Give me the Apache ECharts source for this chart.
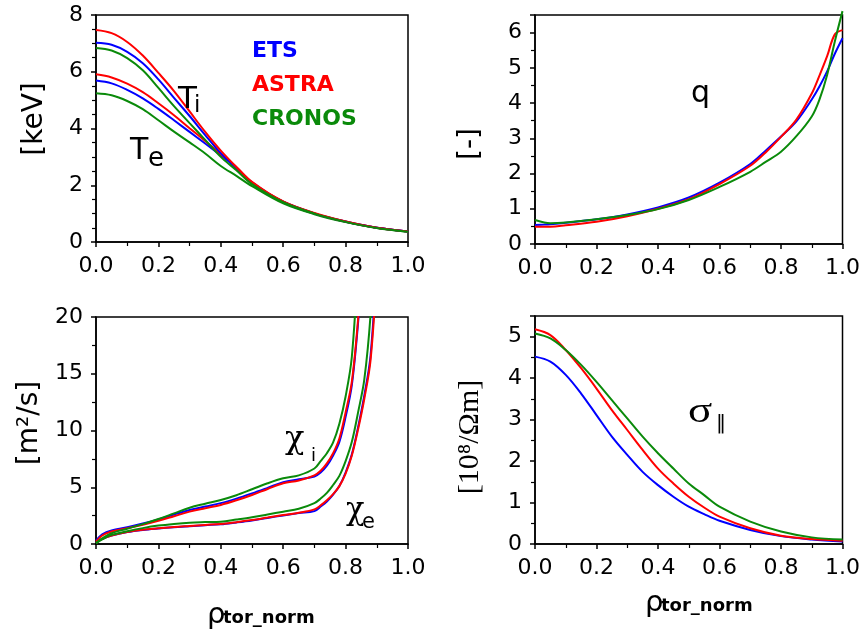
<!DOCTYPE html>
<html>
<head>
<meta charset="utf-8">
<script src="https://cdn.jsdelivr.net/npm/echarts@6/dist/echarts.min.js"></script>
<style>
  html, body { margin: 0; padding: 0; background: #fff; }
  #chart { width: 863px; height: 634px; }
</style>
</head>
<body>
<div id="chart"></div>
<script>
// codes
const codeNames = ['ETS', 'ASTRA', 'CRONOS'];
const codeColors = ['#0000ff', '#ff0000', '#0a8a0a'];

// temperatures [keV]
const rhoT = [0, 0.05, 0.1, 0.15, 0.2, 0.25, 0.3, 0.35, 0.4, 0.45, 0.5, 0.6, 0.7, 0.8, 0.9, 1.0];
const tiEts    = [7.02, 6.95, 6.70, 6.30, 5.73, 5.08, 4.44, 3.77, 3.13, 2.59, 2.06, 1.42, 1.01, 0.72, 0.50, 0.37];
const tiAstra  = [7.47, 7.36, 7.05, 6.57, 5.96, 5.32, 4.60, 3.88, 3.22, 2.64, 2.09, 1.43, 1.02, 0.72, 0.50, 0.37];
const tiCronos = [6.84, 6.75, 6.48, 6.05, 5.43, 4.79, 4.19, 3.60, 3.00, 2.53, 2.04, 1.40, 1.00, 0.71, 0.49, 0.36];
const teEts    = [5.69, 5.59, 5.36, 5.06, 4.69, 4.29, 3.88, 3.47, 3.05, 2.62, 2.10, 1.41, 1.00, 0.71, 0.50, 0.37];
const teAstra  = [5.91, 5.80, 5.58, 5.28, 4.89, 4.47, 4.01, 3.56, 3.10, 2.64, 2.12, 1.42, 1.01, 0.72, 0.50, 0.37];
const teCronos = [5.24, 5.17, 4.97, 4.68, 4.29, 3.89, 3.51, 3.12, 2.68, 2.33, 1.97, 1.36, 0.98, 0.70, 0.49, 0.36];

// safety factor q
const rhoQ = [0, 0.03, 0.05, 0.1, 0.2, 0.3, 0.4, 0.5, 0.6, 0.7, 0.75, 0.8, 0.85, 0.9, 0.925, 0.95, 0.975, 1.0];
const qEts    = [0.54, 0.55, 0.56, 0.60, 0.70, 0.84, 1.04, 1.32, 1.74, 2.27, 2.65, 3.05, 3.48, 4.10, 4.47, 4.90, 5.40, 5.84];
const qAstra  = [0.49, 0.49, 0.49, 0.53, 0.63, 0.79, 1.00, 1.27, 1.70, 2.22, 2.60, 3.04, 3.53, 4.27, 4.78, 5.33, 5.95, 6.07];
const qCronos = [0.68, 0.61, 0.59, 0.61, 0.70, 0.82, 0.99, 1.25, 1.62, 2.05, 2.33, 2.62, 3.06, 3.62, 4.10, 4.80, 5.75, 6.61];

// heat diffusivities [m2/s] (curves leave the box at the top)
const rhoChi = [0, 0.02, 0.05, 0.1, 0.15, 0.2, 0.25, 0.3, 0.35, 0.4, 0.45, 0.5, 0.55, 0.6, 0.65, 0.7, 0.72, 0.74, 0.76, 0.78, 0.8, 0.82, 0.84, 0.86, 0.88, 0.9];
const chiIEts    = [0.3, 0.85, 1.2, 1.47, 1.8, 2.17, 2.6, 3.0, 3.3, 3.6, 4.0, 4.46, 4.95, 5.45, 5.7, 5.95, 6.3, 6.9, 7.8, 9.0, 11.2, 14.0, 19.5, 27];
const chiIAstra  = [0.2, 0.75, 1.1, 1.4, 1.7, 2.05, 2.45, 2.85, 3.15, 3.44, 3.85, 4.32, 4.85, 5.35, 5.6, 6.05, 6.45, 7.1, 8.0, 9.3, 11.6, 14.3, 19.8, 27];
const chiICronos = [0.1, 0.5, 0.95, 1.35, 1.75, 2.2, 2.7, 3.2, 3.55, 3.88, 4.3, 4.82, 5.35, 5.79, 6.05, 6.65, 7.3, 8.0, 8.95, 10.6, 13.0, 16.5, 25];
const chiEEts    = [0.1, 0.45, 0.75, 1.05, 1.24, 1.37, 1.48, 1.57, 1.66, 1.74, 1.9, 2.08, 2.3, 2.52, 2.72, 2.9, 3.3, 3.75, 4.35, 5.1, 6.3, 7.9, 10.3, 13.1, 16.6, 25];
const chiEAstra  = [0.1, 0.45, 0.75, 1.05, 1.25, 1.38, 1.5, 1.59, 1.68, 1.76, 1.92, 2.11, 2.33, 2.55, 2.75, 3.05, 3.4, 3.85, 4.4, 5.1, 6.2, 7.8, 10.1, 12.8, 16.2, 24];
const chiECronos = [0.05, 0.4, 0.8, 1.12, 1.4, 1.62, 1.77, 1.88, 1.93, 1.97, 2.15, 2.35, 2.6, 2.85, 3.1, 3.6, 4.0, 4.5, 5.2, 6.0, 7.3, 9.0, 11.6, 14.5, 20.2, 30];

// parallel conductivity [10^8/Ohm m]
const rhoS = [0, 0.05, 0.1, 0.15, 0.2, 0.25, 0.3, 0.35, 0.4, 0.45, 0.5, 0.55, 0.6, 0.7, 0.8, 0.9, 1.0];
const sigEts    = [4.52, 4.40, 4.08, 3.63, 3.11, 2.59, 2.15, 1.74, 1.42, 1.14, 0.90, 0.72, 0.56, 0.34, 0.19, 0.11, 0.06];
const sigAstra  = [5.18, 5.04, 4.68, 4.24, 3.75, 3.23, 2.75, 2.27, 1.82, 1.46, 1.14, 0.88, 0.66, 0.38, 0.20, 0.12, 0.08];
const sigCronos = [5.08, 4.96, 4.68, 4.32, 3.91, 3.47, 3.03, 2.59, 2.19, 1.82, 1.46, 1.18, 0.90, 0.54, 0.30, 0.16, 0.11];

const xTicks = [0, 0.2, 0.4, 0.6, 0.8, 1.0];

let chart = echarts.init(document.getElementById('chart'), null, { renderer: 'canvas' });

let grids = [
  { left: 96, top: 15, width: 312, height: 227 },
  { left: 535, top: 15, width: 312, height: 229 },
  { left: 96, top: 317, width: 312, height: 227 },
  { left: 535, top: 316, width: 311, height: 228 }
].map(g => Object.assign(g, { show: true, borderColor: '#000', borderWidth: 1.5, backgroundColor: 'transparent' }));

const sans = "'DejaVu Sans', sans-serif";
const serif = "'Liberation Serif', 'Times New Roman', serif";
const labelFont = { color: '#000', fontSize: 22, fontFamily: 'DejaVu Sans' };

function xAxis(gi) {
  return {
    type: 'value', gridIndex: gi, min: 0, max: 1, interval: 0.2,
    axisLine: { show: true, lineStyle: { color: '#000', width: 1.5 } },
    axisTick: { show: true, length: 5, lineStyle: { color: '#000', width: 1.5 } },
    minorTick: { show: true, splitNumber: 2, length: 4, lineStyle: { color: '#000', width: 1.2 } },
    splitLine: { show: false },
    axisLabel: Object.assign({ margin: 13, formatter: v => xTicks.indexOf(+v.toFixed(1)) >= 0 ? v.toFixed(1) : '' }, labelFont)
  };
}

function yAxis(gi, max, interval, minor) {
  return {
    type: 'value', gridIndex: gi, min: 0, max: max, interval: interval,
    axisLine: { show: true, lineStyle: { color: '#000', width: 1.5 } },
    axisTick: { show: true, length: 5, lineStyle: { color: '#000', width: 1.5 } },
    minorTick: { show: true, splitNumber: minor, length: 4, lineStyle: { color: '#000', width: 1.2 } },
    splitLine: { show: false },
    axisLabel: Object.assign({ margin: 13, formatter: v => (v % interval === 0 ? String(v) : '') }, labelFont)
  };
}

function line(gi, rho, vals, ci) {
  return {
    type: 'line', xAxisIndex: gi, yAxisIndex: gi,
    data: vals.map((v, i) => [rho[i], v]),
    showSymbol: false, smooth: 0.35,
    lineStyle: { color: codeColors[ci], width: 2 },
    itemStyle: { color: codeColors[ci] },
    silent: true, z: 3
  };
}

let series = [
  line(0, rhoT, teEts, 0), line(0, rhoT, teAstra, 1), line(0, rhoT, teCronos, 2),
  line(0, rhoT, tiEts, 0), line(0, rhoT, tiAstra, 1), line(0, rhoT, tiCronos, 2),
  line(1, rhoQ, qEts, 0), line(1, rhoQ, qAstra, 1), line(1, rhoQ, qCronos, 2),
  line(2, rhoChi, chiEEts, 0), line(2, rhoChi, chiEAstra, 1), line(2, rhoChi, chiECronos, 2),
  line(2, rhoChi, chiIEts, 0), line(2, rhoChi, chiIAstra, 1), line(2, rhoChi, chiICronos, 2),
  line(3, rhoS, sigEts, 0), line(3, rhoS, sigAstra, 1), line(3, rhoS, sigCronos, 2)
];
// q of CRONOS pokes a little above the frame
series[8].clip = false;

// text helper: x, y = top-left of text box
function txt(x, y, text, font, color, sx) {
  return { type: 'text', x: x, y: y, scaleX: sx || 1, z: 10, style: { text: text, font: font, fill: color || '#000', textAlign: 'left', textVerticalAlign: 'top' } };
}
function vtxt(cx, cy, text, font) {
  return { type: 'text', x: cx, y: cy, rotation: Math.PI / 2, z: 10, style: { text: text, font: font, fill: '#000', textAlign: 'center', textVerticalAlign: 'middle' } };
}

let graphic = [
  // legend words
  txt(252, 40, codeNames[0], 'bold 22px ' + sans, codeColors[0]),
  txt(252, 74, codeNames[1], 'bold 22px ' + sans, codeColors[1]),
  txt(252, 108, codeNames[2], 'bold 22px ' + sans, codeColors[2]),
  // curve labels
  txt(178, 84, 'T', '31px ' + sans), txt(194, 95, 'i', '23px ' + sans),
  txt(130, 136, 'T', '30px ' + sans), txt(148, 146, 'e', '26px ' + sans),
  txt(691, 79, 'q', '30px ' + sans),
  txt(285, 424, 'χ', "32px 'DejaVu Serif', serif", '#000', 1.0), txt(311, 447, 'i', '18px ' + sans),
  txt(346, 495, 'χ', "32px 'DejaVu Serif', serif", '#000', 0.95), txt(362, 512, 'e', '21px ' + sans),
  txt(688, 395, 'σ', '36px ' + serif, '#000', 1.25), txt(716, 414, '‖', '20px ' + sans),
  // axis names
  vtxt(35, 119, '[keV]', '28px ' + sans),
  vtxt(471, 144, '[-]', '28px ' + sans),
  vtxt(30, 423, '[m²/s]', '28px ' + sans),
  vtxt(470, 437, '[10⁸/Ωm]', '30px ' + serif),
  txt(207, 601, 'ρ', '29px ' + sans), txt(223, 609, 'tor_norm', 'bold 18px ' + sans),
  txt(645, 589, 'ρ', '29px ' + sans), txt(661, 597, 'tor_norm', 'bold 18px ' + sans)
];

let options = {
  backgroundColor: '#fff',
  animation: false,
  grid: grids,
  xAxis: [xAxis(0), xAxis(1), xAxis(2), xAxis(3)],
  yAxis: [yAxis(0, 8, 2, 4), yAxis(1, 6.5, 1, 2), yAxis(2, 20, 5, 2), yAxis(3, 5.5, 1, 2)],
  series: series,
  graphic: graphic
};
chart.setOption(options);
</script>
</body>
</html>
